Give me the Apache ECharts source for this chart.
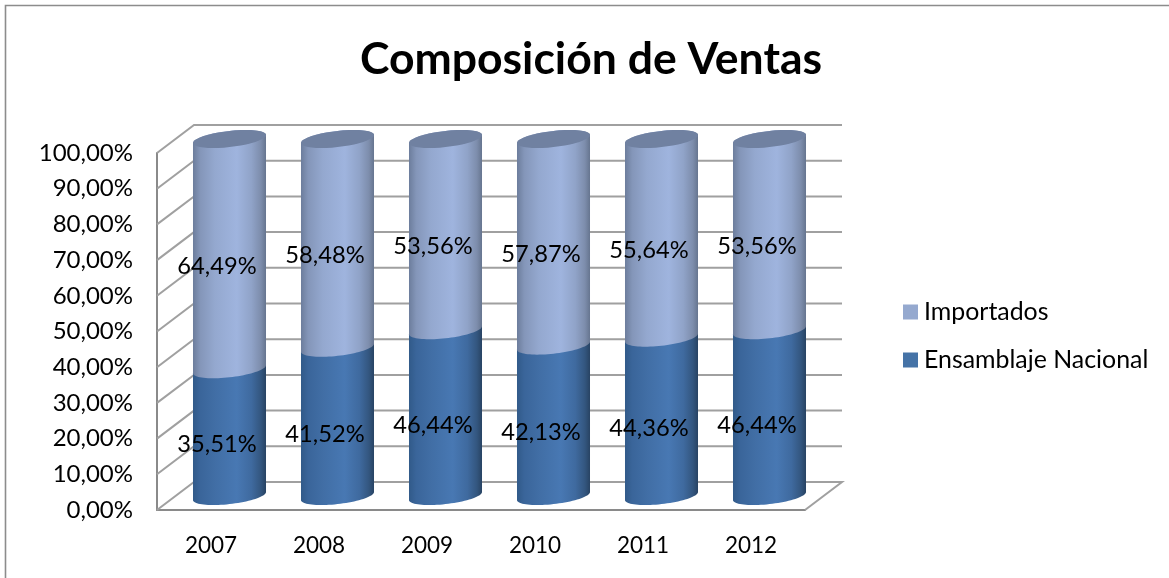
<!DOCTYPE html>
<html><head><meta charset="utf-8">
<style>html,body{margin:0;padding:0;background:#fff}#c{width:1169px;height:578px}</style>
<script src="https://cdn.jsdelivr.net/npm/echarts@6/dist/echarts.min.js"></script>
</head><body><div id="c"></div>
<script>
const categories = ['2007','2008','2009','2010','2011','2012'];
const ensamblaje = [35.51,41.52,46.44,42.13,44.36,46.44];
const importados = [64.49,58.48,53.56,57.87,55.64,53.56];
const yTicks = [0,10,20,30,40,50,60,70,80,90,100];
const FONT = 'Lato';
const DEPTH_X = 37, DEPTH_Y = -28;
const fmt = v => v.toFixed(2).replace('.',',') + '%';

const lightGrad = {type:'linear',x:0,y:0,x2:1,y2:0,colorStops:[
 {offset:0,color:'#6c7d9c'},{offset:.1,color:'#8496b9'},{offset:.3,color:'#94a8cf'},
 {offset:.6,color:'#9fb4de'},{offset:.8,color:'#90a3c8'},{offset:.93,color:'#7d8dac'},{offset:1,color:'#66758f'}]};
const darkGrad = {type:'linear',x:0,y:0,x2:1,y2:0,colorStops:[
 {offset:0,color:'#315a89'},{offset:.1,color:'#3a659a'},{offset:.3,color:'#416ea5'},
 {offset:.6,color:'#4878b3'},{offset:.8,color:'#3f6a9f'},{offset:.93,color:'#33567f'},{offset:1,color:'#284363'}]};

function arc(cx,cy,a,b,k,t0,t1){
  const out=[]; const n=40;
  for(let i=0;i<=n;i++){const t=t0+(t1-t0)*i/n;
    out.push([cx+a*Math.cos(t), cy+b*Math.sin(t)-k*a*Math.cos(t)]);}
  return out;
}
function cylinder(grad,hasCap){
  return function(params,api){
    const i=api.value(0), from=api.value(1), to=api.value(2);
    const p0=api.coord([i,from]), p1=api.coord([i,to]);
    const a=api.size([1,0])[0]*0.338, b=8.1, k=0.11;
    const cx=p0[0]+DEPTH_X/2, y0=p0[1]+DEPTH_Y/2, y1=p1[1]+DEPTH_Y/2;
    const pts=arc(cx,y0,a,b,k,Math.PI,0).concat(arc(cx,y1,a,b,k,0,-Math.PI));
    const kids=[{type:'polygon',shape:{points:pts},style:{fill:grad},z2:1}];
    if(hasCap) kids.push({type:'polygon',shape:{points:arc(cx,y1,a,b,k,0,Math.PI*2)},style:{fill:'#7081a1'},z2:2});
    const mid=api.coord([i,(from+to)/2]);
    kids.push({type:'text',z2:5,style:{text:fmt(to-from),x:mid[0]+6,y:mid[1]-2,align:'center',verticalAlign:'middle',
      font:'23.7px '+FONT,fill:'#000'}});
    return {type:'group',children:kids};
  };
}
const chart=echarts.init(document.getElementById('c'),null,{renderer:'canvas'});
chart.setOption({
  animation:false,backgroundColor:'#fff',
  title:{text:'Composición de Ventas',left:586,top:32,textAlign:'center',
    textStyle:{fontFamily:FONT,fontWeight:'bold',fontSize:44.5,color:'#000'}},
  legend:{orient:'vertical',left:898,top:293,itemWidth:15,itemHeight:15,itemGap:20,
    data:[{name:'Importados',icon:'rect',itemStyle:{color:'#95a9cf'}},{name:'Ensamblaje Nacional',icon:'rect',itemStyle:{color:'#4573a7'}}],
    textStyle:{fontFamily:FONT,fontSize:24.9,lineHeight:28,color:'#000',padding:[0,0,0,1]},selectedMode:false},
  grid:{left:157,top:153,width:648,height:357,containLabel:false},
  xAxis:{type:'category',data:categories,axisTick:{show:false},
    axisLine:{lineStyle:{color:'#8a8a8a',width:2}},
    axisLabel:{fontFamily:FONT,fontSize:22.5,color:'#000',margin:24}},
  yAxis:{type:'value',min:0,max:100,interval:10,splitLine:{show:false},axisTick:{show:false},
    axisLine:{show:true,lineStyle:{color:'#8a8a8a',width:2}},
    axisLabel:{fontFamily:FONT,fontSize:24,color:'#000',margin:24,padding:[5,0,0,0],formatter:fmt}},
  graphic:[{type:'polyline',silent:true,shape:{points:[[5.5,578],[5.5,5.5],[1169,5.5]]},
    style:{stroke:'#8c8c8c',lineWidth:1.6,fill:null}}],
  series:[
    {type:'custom',name:'walls',coordinateSystem:'cartesian2d',z:1,silent:true,
     data:yTicks.map(v=>[0,v]),
     renderItem(params,api){
       const y=api.coord([0,api.value(1)])[1], cs=params.coordSys;
       const pts=[[cs.x,y],[cs.x+DEPTH_X,y+DEPTH_Y],[cs.x+cs.width+DEPTH_X,y+DEPTH_Y]];
       if(api.value(1)===0) pts.push([cs.x+cs.width,y]);
       return {type:'polyline',shape:{points:pts},style:{stroke:'#a0a0a0',lineWidth:2,fill:null}};
     }},
    {type:'custom',name:'Ensamblaje Nacional',coordinateSystem:'cartesian2d',z:3,silent:true,
     itemStyle:{color:'#4573a7'},renderItem:cylinder(darkGrad,false),
     data:ensamblaje.map((v,i)=>[i,0,v])},
    {type:'custom',name:'Importados',coordinateSystem:'cartesian2d',z:4,silent:true,
     itemStyle:{color:'#95a9cf'},renderItem:cylinder(lightGrad,true),
     data:importados.map((v,i)=>[i,ensamblaje[i],ensamblaje[i]+v])}
  ]
});
</script></body></html>
